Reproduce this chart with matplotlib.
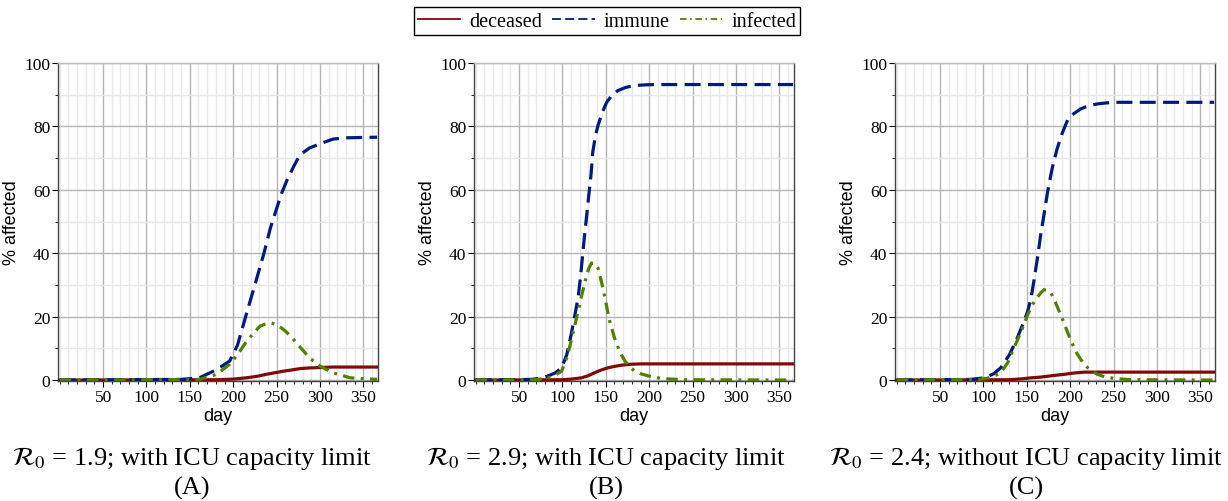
import matplotlib
matplotlib.use('Agg')
import matplotlib.pyplot as plt
from matplotlib.ticker import MultipleLocator

plt.rcParams.update({
    'font.family': 'Liberation Serif',
    'mathtext.fontset': 'stix',
    'figure.facecolor': 'white',
})

RED = '#7f0a0a'
NAVY = '#001a80'
GREEN = '#4f8000'

# ── values (day, % affected) ──
# (A) R0 = 1.9, with ICU capacity limit
A_IMM_DAY = [0, 140, 161, 181, 196, 205, 215, 225, 235, 243, 250, 256, 262, 270, 277, 288, 300, 315, 330, 366]
A_IMM_VAL = [0, 0.2, 0.7, 3.3, 6, 11, 20.6, 30, 39.5, 48, 54, 59, 63, 67.5, 71, 73.2, 74.5, 76, 76.4, 76.6]
A_INF_DAY = [0, 140, 161, 181, 196, 205, 215, 224, 231, 238, 244, 251, 260, 269, 280, 288, 300, 315, 335, 366]
A_INF_VAL = [0, 0.1, 0.2, 1.8, 5, 8, 12, 15, 17, 17.8, 18, 17.4, 15.5, 13, 9.5, 7, 4.4, 2.3, 0.7, 0.2]
A_DEC_DAY = [0, 180, 200, 215, 228, 238, 248, 258, 268, 277, 286, 296, 305, 315, 330, 366]
A_DEC_VAL = [0, 0.1, 0.3, 0.7, 1.2, 1.8, 2.3, 2.8, 3.2, 3.6, 3.8, 3.9, 4.0, 4.1, 4.1, 4.1]

# (B) R0 = 2.9, with ICU capacity limit
B_IMM_DAY = [0, 64, 75, 83.5, 92, 99, 105, 110, 114, 118, 121, 124, 127, 130, 133, 135, 138, 141, 146, 151, 157, 164, 173, 183, 195, 206, 366]
B_IMM_VAL = [0, 0.2, 0.6, 1.3, 2.3, 3.9, 8, 14.3, 20, 25.9, 33, 41.6, 49.5, 57.3, 65, 72, 77, 80.3, 84.5, 87.6, 89.8, 91.3, 92.3, 92.9, 93.1, 93.2, 93.2]
B_INF_DAY = [0, 70, 85, 92, 99, 105, 110, 114, 118, 122, 126, 130, 133.5, 137, 141, 145, 149, 154, 160, 166, 172, 178, 183.5, 190, 199, 210, 218, 240, 366]
B_INF_VAL = [0, 0.1, 0.8, 1.6, 2.8, 7, 12.3, 17, 21.7, 26.5, 31, 35, 36.9, 36.8, 35.3, 31, 25.9, 19, 13.3, 9, 6, 4, 2.8, 2, 1.3, 0.7, 0.4, 0.1, 0]
B_DEC_DAY = [0, 100, 110, 122, 130, 137, 145, 153, 160, 168, 180, 191, 210, 366]
B_DEC_VAL = [0, 0.1, 0.3, 0.7, 1.4, 2.3, 3.2, 3.9, 4.3, 4.7, 5.0, 5.1, 5.1, 5.1]

# (C) R0 = 2.4, without ICU capacity limit
C_IMM_DAY = [0, 85, 100.8, 112, 120, 130, 139, 146, 151, 155, 158, 162, 166, 170, 174, 179, 185, 191, 197, 204, 212, 221, 231.5, 241, 251, 270, 366]
C_IMM_VAL = [0, 0.2, 0.7, 2, 3.9, 8, 13.3, 18, 21.7, 26, 31, 38, 45.8, 52.5, 59.4, 66.5, 73, 78, 82, 84, 85.5, 86.5, 87.1, 87.4, 87.6, 87.6, 87.6]
C_INF_DAY = [0, 95, 105, 112, 120, 128, 135, 143, 151, 157, 162, 166, 170, 174, 178, 183, 189, 195, 201, 208, 216, 224, 231.5, 240, 251, 270, 366]
C_INF_VAL = [0, 0.2, 0.6, 1.2, 2.3, 5.5, 10, 15, 20.6, 24, 26, 27.5, 28.5, 28.3, 27.4, 24.5, 20.6, 16.5, 12.3, 8.3, 4.9, 3, 1.8, 1, 0.5, 0.1, 0]
C_DEC_DAY = [0, 130, 145, 155, 165, 174, 183, 193, 204, 216, 231, 250, 366]
C_DEC_VAL = [0, 0.1, 0.4, 0.7, 0.9, 1.2, 1.5, 1.8, 2.2, 2.5, 2.5, 2.5, 2.5]

PANELS = [
    (A_DEC_DAY, A_DEC_VAL, A_IMM_DAY, A_IMM_VAL, A_INF_DAY, A_INF_VAL),
    (B_DEC_DAY, B_DEC_VAL, B_IMM_DAY, B_IMM_VAL, B_INF_DAY, B_INF_VAL),
    (C_DEC_DAY, C_DEC_VAL, C_IMM_DAY, C_IMM_VAL, C_INF_DAY, C_INF_VAL),
]
CAPTIONS = [
    r'$\mathcal{R}_0$ = 1.9; with ICU capacity limit',
    r'$\mathcal{R}_0$ = 2.9; with ICU capacity limit',
    r'$\mathcal{R}_0$ = 2.4; without ICU capacity limit',
]
LETTERS = ['(A)', '(B)', '(C)']
LEFTS = [58, 474, 895]
CAP_X = [192, 606, 1026]

W, H = 1228, 502
fig = plt.figure(figsize=(W / 100, H / 100), dpi=100)

handles = None
for k, (dd, dv, md, mv, idd, iv) in enumerate(PANELS):
    left = LEFTS[k]
    ax = fig.add_axes([left / W, (H - 382) / H, 320 / W, 318 / H])
    l1, = ax.plot(dd, dv, color=RED, lw=2.3, label='deceased', zorder=3)
    l2, = ax.plot(md, mv, color=NAVY, lw=2.3, dashes=(5, 2.3), label='immune', zorder=4)
    l3, = ax.plot(idd, iv, color=GREEN, lw=2.3, dashes=(3.6, 2, 0.9, 2), label='infected', zorder=5)
    handles = [l1, l2, l3]

    ax.set_xlim(-2, 367)
    ax.set_ylim(-0.3, 100)
    ax.xaxis.set_major_locator(MultipleLocator(50))
    ax.xaxis.set_minor_locator(MultipleLocator(10))
    ax.yaxis.set_major_locator(MultipleLocator(20))
    ax.yaxis.set_minor_locator(MultipleLocator(10))
    ax.set_xticks(range(50, 351, 50))
    ax.grid(which='major', color='#b4b4b4', lw=1.0)
    ax.grid(which='minor', color='#e8e8e8', lw=1.0)
    ax.set_axisbelow(True)
    ax.tick_params(which='major', direction='out', length=4, labelsize=12.5, pad=1.5)
    ax.tick_params(which='minor', direction='out', length=2.5)
    for s in ax.spines.values():
        s.set_color('#444444')
        s.set_linewidth(1.0)
    ax.spines['top'].set_color('#bbbbbb')
    ax.set_xlabel('day', family='Liberation Sans', fontsize=13, labelpad=2)
    ax.set_ylabel('% affected', family='Liberation Sans', fontsize=13, labelpad=3)

    cx = CAP_X[k] / W
    fig.text(cx, 1 - 459 / H, CAPTIONS[k], ha='center', va='center', fontsize=19)
    fig.text(cx, 1 - 488 / H, LETTERS[k], ha='center', va='center', fontsize=19)

leg = fig.legend(handles=handles, loc='center', bbox_to_anchor=(607 / W, 1 - 22 / H),
                 ncol=3, fontsize=14.5, frameon=True, fancybox=False,
                 edgecolor='black', framealpha=1, handlelength=2.1,
                 handletextpad=0.45, columnspacing=0.5, borderpad=0.2,
                 borderaxespad=0)
leg.get_frame().set_linewidth(1.0)
for h in leg.legend_handles:
    h.set_linewidth(1.3)

fig.savefig('out.png', dpi=100)
